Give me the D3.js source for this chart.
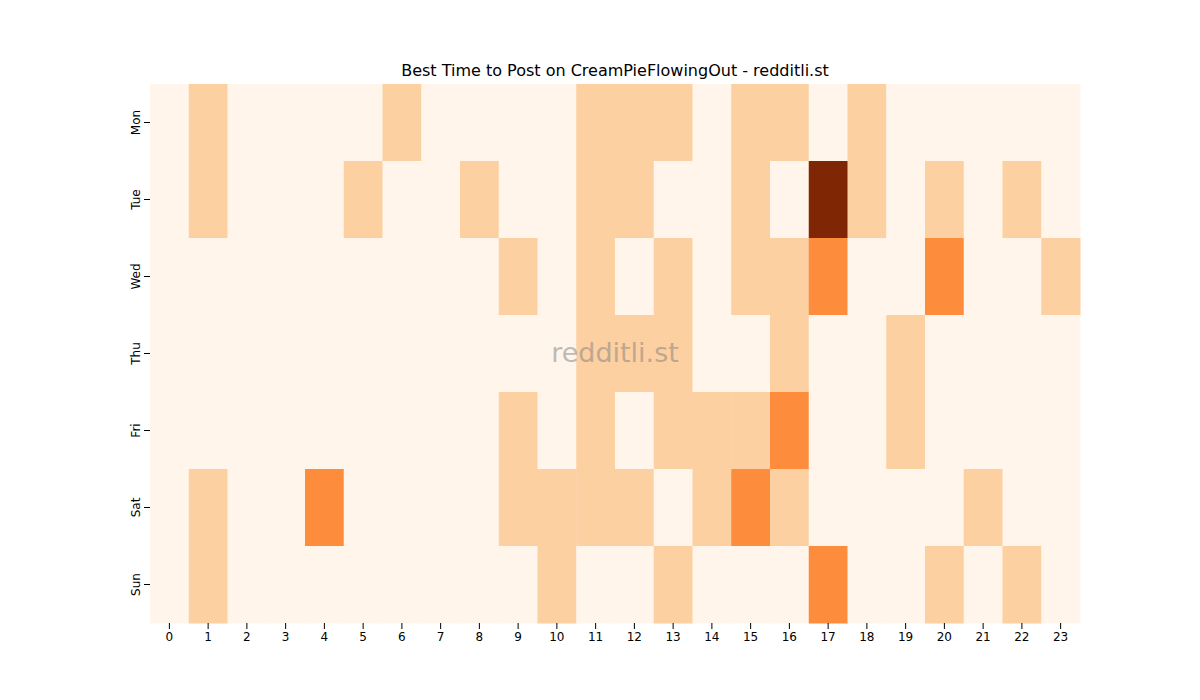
<!DOCTYPE html>
<html><head><meta charset="utf-8">
<script src="https://cdn.jsdelivr.net/npm/d3@7"></script>
<style>body{margin:0;background:#fff;font-family:"DejaVu Sans",sans-serif;}</style>
</head><body><svg id="c" width="1200" height="700"></svg>
<script>
const days = ["Mon","Tue","Wed","Thu","Fri","Sat","Sun"];
const hours = d3.range(24).map(String);
const mon = [0,1,0,0,0,0,1,0,0,0,0,1,1,1,0,1,1,0,1,0,0,0,0,0];
const tue = [0,1,0,0,0,1,0,0,1,0,0,1,1,0,0,1,0,3,1,0,1,0,1,0];
const wed = [0,0,0,0,0,0,0,0,0,1,0,1,0,1,0,1,1,2,0,0,2,0,0,1];
const thu = [0,0,0,0,0,0,0,0,0,0,0,1,1,1,0,0,1,0,0,1,0,0,0,0];
const fri = [0,0,0,0,0,0,0,0,0,1,0,1,0,1,1,1,2,0,0,1,0,0,0,0];
const sat = [0,1,0,0,2,0,0,0,0,1,1,1,1,0,1,2,1,0,0,0,0,1,0,0];
const sun = [0,1,0,0,0,0,0,0,0,0,1,0,0,1,0,0,0,2,0,0,1,0,1,0];
const rows = [mon,tue,wed,thu,fri,sat,sun];
const colors = ["#fff5eb","#fdd0a2","#fd8d3c","#7f2704"];

const svg = d3.select("#c");
const x = d3.scaleBand().domain(hours).range([150,1080]);
const y = d3.scaleBand().domain(days).range([84,623]);
const color = d3.scaleOrdinal().domain([0,1,2,3]).range(colors);
const cells = [];
rows.forEach((r,i)=>r.forEach((v,j)=>cells.push({d:days[i],h:hours[j],v})));
svg.append("g").selectAll("rect").data(cells).join("rect")
  .attr("x",d=>x(d.h)).attr("y",d=>y(d.d))
  .attr("width",x.bandwidth()+0.5).attr("height",y.bandwidth()+0.5)
  .attr("fill",d=>color(d.v));
const xa = svg.append("g").attr("transform","translate(0,623)").call(d3.axisBottom(x).tickSizeOuter(0));
xa.select(".domain").remove();
xa.selectAll("text").attr("font-size",12).attr("font-family","DejaVu Sans").attr("fill","#000");
const ya = svg.append("g").attr("transform","translate(150,0)").call(d3.axisLeft(y).tickSizeOuter(0));
ya.select(".domain").remove();
ya.selectAll("text").attr("font-size",12).attr("font-family","DejaVu Sans").attr("fill","#000")
  .attr("transform",function(){const t=d3.select(this);return null;});
ya.selectAll(".tick text").each(function(){
  d3.select(this).attr("x",null).attr("dy",null).attr("text-anchor","middle")
    .attr("transform","translate(-14,0) rotate(-90)").attr("dominant-baseline","middle");
});
svg.append("text").attr("x",615).attr("y",76).attr("text-anchor","middle")
  .attr("font-size",16).attr("font-family","DejaVu Sans").text("Best Time to Post on CreamPieFlowingOut - redditli.st");
svg.append("text").attr("x",615).attr("y",362).attr("text-anchor","middle")
  .attr("font-size",27).attr("font-family","DejaVu Sans").attr("fill","#808080").attr("opacity",0.5).text("redditli.st");
</script></body></html>
